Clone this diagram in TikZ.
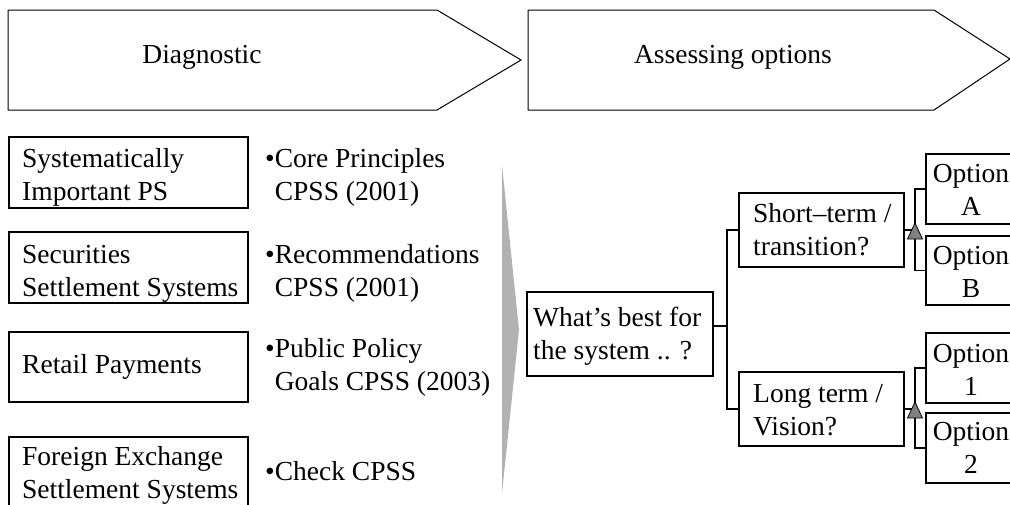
\documentclass[tikz,border=0pt]{standalone}
\usepackage{fontspec}
\setmainfont{Liberation Serif}
\begin{document}
\begin{tikzpicture}[x=1pt,y=-1pt,
  box/.style={draw,line width=1.3pt,inner sep=0pt},
  txt/.style={inner sep=0pt,align=left,font=\fontsize{27.5}{33}\selectfont},
  ctxt/.style={inner sep=0pt,align=center,font=\fontsize{27.5}{33}\selectfont},
  chev/.style={draw,line width=1pt,line join=miter},
  link/.style={line width=1.3pt},
  tri/.style={fill=black!50,draw=black,line width=0.8pt,line join=miter},
  wedge/.style={fill=black!30}]
\useasboundingbox (0,0) rectangle (1010,504);
\clip (0,0) rectangle (1010,504);
% chevrons
\draw[chev] (8,10) -- (437,10) -- (521,60) -- (437,110) -- (8,110) -- cycle;
\draw[chev] (528,10) -- (934,10) -- (1010,59) -- (934,110) -- (528,110) -- cycle;
\node[ctxt,anchor=base] (diag) at (202,63) {Diagnostic};
\node[ctxt,anchor=base] (assess) at (733,63) {Assessing options};
% left boxes
\node[box,minimum width=239pt,minimum height=71pt] (b1) at (128.5,172.5) {};
\node[box,minimum width=239pt,minimum height=71pt] (b2) at (128.5,267.5) {};
\node[box,minimum width=239pt,minimum height=70pt] (b3) at (128.5,367) {};
\node[box,minimum width=239pt,minimum height=71pt] (b4) at (128.5,472.5) {};
\node[txt,anchor=base west] (t1) at (22,200) {Systematically\\Important PS};
\node[txt,anchor=base west] (t2) at (22,296) {Securities\\Settlement Systems};
\node[txt,anchor=base west] (t3) at (22,373) {Retail Payments};
\node[txt,anchor=base west] (t4) at (22,498) {Foreign Exchange\\Settlement Systems};
% bullet texts
\node[txt,anchor=base west] (r1) at (265,200) {•Core Principles\\\phantom{•}CPSS (2001)};
\node[txt,anchor=base west] (r2) at (265,296) {•Recommendations\\\phantom{•}CPSS (2001)};
\node[txt,anchor=base west] (r3) at (265,390) {•Public Policy\\\phantom{•}Goals CPSS (2003)};
\node[txt,anchor=base west] (r4) at (265,480) {•Check CPSS};
% wedge
\fill[wedge] (502,165) -- (519,330) -- (502,493) -- cycle;
% decision tree
\node[box,minimum width=186pt,minimum height=84pt] (wb) at (620,334) {};
\node[txt,anchor=base west] (wbt) at (533,359) {What’s best for\\the system .. ?};
\node[box,minimum width=165pt,minimum height=74pt] (st) at (821.5,230) {};
\node[txt,anchor=base west] (stt) at (753,255) {Short–term /\\transition?};
\node[box,minimum width=165pt,minimum height=74pt] (lt) at (821.5,409) {};
\node[txt,anchor=base west] (ltt) at (753,435) {Long term /\\Vision?};
\node[box,minimum width=90pt,minimum height=70pt] (oa) at (971,189) {};
\node[box,minimum width=90pt,minimum height=69pt] (ob) at (971,270.5) {};
\node[box,minimum width=90pt,minimum height=70pt] (o1) at (971,368) {};
\node[box,minimum width=90pt,minimum height=70pt] (o2) at (971,448) {};
\node[ctxt,anchor=base] (oat) at (971,215) {Option\\A};
\node[ctxt,anchor=base] (obt) at (971,297) {Option\\B};
\node[ctxt,anchor=base] (o1t) at (971,395) {Option\\1};
\node[ctxt,anchor=base] (o2t) at (971,473) {Option\\2};
% connectors
\coordinate (j1) at (727,326);
\coordinate (j2) at (915,230);
\coordinate (j3) at (915,409);
\draw[link] ([yshift=8pt]wb.east) -- (j1);
\draw[link] (st.west) -| (j1);
\draw[link] (lt.west) -| (j1);
\draw[link] (st.east) -- (j2);
\draw[link] (oa.west) -| (j2);
\draw[link] (ob.west) -| (j2);
\draw[link] (lt.east) -- (j3);
\draw[link] (o1.west) -| (j3);
\draw[link] (o2.west) -| (j3);
\filldraw[tri] (j2) ++(0,-7) -- ++(7.5,16) -- ++(-15,0) -- cycle;
\filldraw[tri] (j3) ++(0,-7) -- ++(7.5,16) -- ++(-15,0) -- cycle;
\end{tikzpicture}
\end{document}
